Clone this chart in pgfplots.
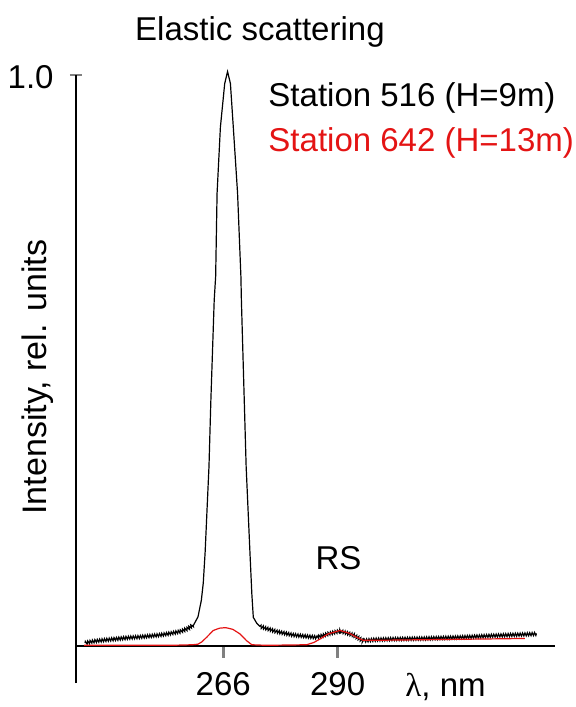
\documentclass[border=0pt]{standalone}
\usepackage{fontspec}
\setmainfont{Liberation Sans}
\newfontfamily\seriffont{Liberation Serif}
\usepackage{pgfplots}
\pgfplotsset{compat=1.18}
\usetikzlibrary{decorations.pathmorphing}
\definecolor{stred}{RGB}{228,20,20}

\begin{document}
\fontsize{16.5}{19}\selectfont
\begin{tikzpicture}
  \begin{axis}[
    at={(0,0)}, anchor=south west,
    scale only axis, width=239.5pt, height=304pt,
    xmin=235.1, xmax=335.6, ymin=-0.065, ymax=1.0,
    axis y line=left, axis x line=middle,
    axis line style={-, line width=0.7pt},
    xtick={266,290}, ytick={1},
    yticklabels={1.0},
    xtick align=outside, ytick align=center,
    major tick length=6pt,
    xtick style={line width=1.6pt},
    ytick style={line width=0.7pt},
    /pgf/number format/assume math mode=true,
    xticklabel style={anchor=base, inner sep=0pt, yshift=-19pt},
    yticklabel style={anchor=base east, inner sep=0pt, xshift=-8pt, yshift=-6.6pt},
    xlabel={{\seriffont λ}, nm},
    every axis x label/.style={at={(rel axis cs:0.687,-0.023)}, anchor=base west, inner sep=0pt},
    ylabel={\fontsize{17}{20}\selectfont Intensity, rel. units},
    every axis y label/.style={at={(rel axis cs:-0.0793,0.503)}, rotate=90, anchor=center, inner sep=0pt},
    clip=false,
  ]
    % Station 516, baseline left of the elastic peak
    \addplot[black, line width=0.6pt, decorate,
      decoration={zigzag, segment length=1.2pt, amplitude=0.75pt}] coordinates {
      (237.0,0.005) (238.7,0.008) (242.0,0.011) (245.7,0.014) (249.0,0.016)
      (252.7,0.019) (255.0,0.022) (256.9,0.025) (258.5,0.030) (259.8,0.037)
    };
    % Station 516, elastic peak
    \addplot[black, line width=0.6pt] coordinates {
      (259.8,0.037) (260.7,0.051) (261.4,0.080) (261.8,0.110) (262.2,0.165)
      (262.6,0.240) (263.0,0.314) (263.4,0.431) (264.1,0.606) (264.4,0.647)
      (264.7,0.793) (265.4,0.909) (266.3,0.985) (266.9,1.006) (267.5,0.985)
      (268.1,0.909) (269.0,0.793) (269.7,0.647) (269.8,0.606) (270.4,0.431)
      (270.8,0.314) (271.6,0.163) (272.0,0.090) (272.3,0.050) (273.0,0.040)
      (273.7,0.034)
    };
    % Station 516, tail and Raman band
    \addplot[black, line width=0.6pt, decorate,
      decoration={zigzag, segment length=1.2pt, amplitude=0.75pt}] coordinates {
      (273.7,0.034) (277.2,0.025) (280.7,0.019) (283.0,0.017) (285.6,0.015)
      (288.0,0.021) (290.5,0.026) (293.3,0.019) (295.3,0.009) (298.0,0.011)
      (301.7,0.012) (308.0,0.013) (315.7,0.015) (323.0,0.018) (331.8,0.021)
    };
    % Station 642
    \addplot[stred, line width=0.6pt] coordinates {
      (236.8,0.001) (245.0,0.001) (255.0,0.001) (259.5,0.002) (260.7,0.003)
      (261.5,0.007) (262.5,0.015) (263.9,0.027) (265.2,0.031) (266.5,0.032)
      (268.0,0.029) (269.5,0.021) (270.9,0.009) (272.0,0.002) (275.0,0.001)
      (283.5,0.002) (285.0,0.006) (286.5,0.013) (288.0,0.021) (290.5,0.027)
      (292.5,0.022) (294.0,0.015) (295.3,0.010) (300.0,0.010) (310.0,0.011)
      (320.0,0.012) (329.3,0.013)
    };
    \node[anchor=base] at (rel axis cs:0.384,1.056) {Elastic scattering};
    \node[anchor=base west, inner sep=0pt] at (rel axis cs:0.401,0.948) {Station 516 (H=9m)};
    \node[anchor=base west, inner sep=0pt, text=stred] at (rel axis cs:0.401,0.874) {Station 642 (H=13m)};
    \node[anchor=base] at (rel axis cs:0.548,0.186) {RS};
  \end{axis}
  \pgfresetboundingbox
  \useasboundingbox (-38pt,-12pt) rectangle (249.5pt,341.5pt);
\end{tikzpicture}
\end{document}
